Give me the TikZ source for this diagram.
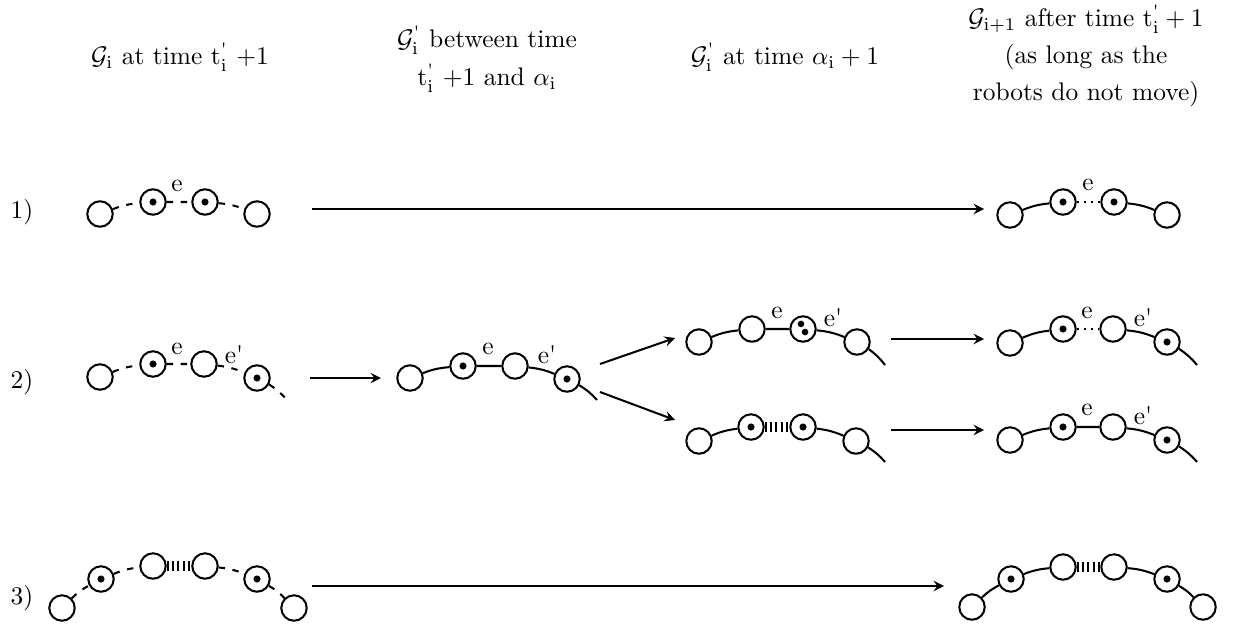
\documentclass[tikz,border=0pt]{standalone}
\usepackage{amsmath}
\newcommand{\qs}{\text{\textquotesingle}}
\newcommand{\tpi}{\mathrm{t}^{\qs}_{\mathrm{i}}}
\begin{document}
\begin{tikzpicture}[x=0.393pt, y=-0.393pt,
  vtx/.style={circle, draw, thick, minimum size=10pt, inner sep=0pt},
  rob/.style={vtx, path picture={\fill (path picture bounding box.center) circle (1.4pt);}},
  robb/.style={vtx, path picture={\fill ([shift={(-0.8pt,2pt)}]path picture bounding box.center) circle (1.3pt);
      \fill ([shift={(0.8pt,-1.2pt)}]path picture bounding box.center) circle (1.3pt);}},
  ed/.style={thick, bend left=8},
  dsh/.style={ed, dash pattern=on 2.5pt off 3pt},
  dts/.style={thick, dotted},
  bars/.style={line width=3.7pt, dash pattern=on 0.8pt off 1.3pt},
  arr/.style={thick, ->, >=stealth}]
  \useasboundingbox (0,0) rectangle (1238,625);
  \node (h1) at (180,57) {$\mathcal{G}_{\mathrm{i}}$ at time $\tpi$ +1};
  \node[align=center] (h2) at (487,59) {$\mathcal{G}^{\qs}_{\mathrm{i}}$ between time\\[3pt] $\tpi$ +1 and $\alpha_{\mathrm{i}}$};
  \node (h3) at (785,57) {$\mathcal{G}^{\qs}_{\mathrm{i}}$ at time $\alpha_{\mathrm{i}}+1$};
  \node[align=center] (h4) at (1086,56) {$\mathcal{G}_{\mathrm{i+1}}$ after time $\tpi+1$\\[2.5pt] (as long as the\\[2.5pt] robots do not move)};
  \node (l1) at (22,212) {1)};
  \node (l2) at (22,382) {2)};
  \node (l3) at (22,598) {3)};

  \node[vtx] (a1) at (100,214) {};
  \node[rob] (b1) at (153,202) {};
  \node[rob] (c1) at (205,202) {};
  \node[vtx] (d1) at (257,214) {};
  \node (e1) at (177,186) {e};
  \draw[dsh] (a1) to (b1) (b1) -- (c1) (c1) to (d1);
  \node[vtx] (a1r) at (1010,215) {};
  \node[rob] (b1r) at (1063,202) {};
  \node[rob] (c1r) at (1114,202) {};
  \node[vtx] (d1r) at (1167,215) {};
  \node (e1r) at (1088,185) {e};
  \draw[ed] (a1r) to (b1r) (c1r) to (d1r);
  \draw[dts] (b1r) -- (c1r);

  \node[vtx] (a2) at (100,377) {};
  \node[rob] (b2) at (153,364) {};
  \node[vtx] (c2) at (204,364) {};
  \node[rob] (d2) at (257,378) {};
  \coordinate (x2) at (287,400);
  \node (e2) at (177,349) {e};
  \node (f2) at (234,355) {e\textquotesingle};
  \draw[dsh] (a2) to (b2) (b2) -- (c2) (c2) to (d2) (d2) to (x2);
  \node[vtx] (a2m) at (410,378) {};
  \node[rob] (b2m) at (463,366) {};
  \node[vtx] (c2m) at (515,366) {};
  \node[rob] (d2m) at (567,379) {};
  \coordinate (x2m) at (597,400);
  \node (e2m) at (488,349) {e};
  \node (f2m) at (547,355) {e\textquotesingle};
  \draw[ed] (a2m) to (b2m) (b2m) -- (c2m) (c2m) to (d2m) (d2m) to (x2m);
  \node[vtx] (a2u) at (699,342) {};
  \node[vtx] (b2u) at (752,329) {};
  \node[robb] (c2u) at (803,329) {};
  \node[vtx] (d2u) at (857,342) {};
  \coordinate (x2u) at (885,365);
  \node (e2u) at (777,313) {e};
  \node (f2u) at (833,318) {e\textquotesingle};
  \draw[ed] (a2u) to (b2u) (b2u) -- (c2u) (c2u) to (d2u) (d2u) to (x2u);
  \node[vtx] (a2l) at (699,441) {};
  \node[rob] (b2l) at (751,427) {};
  \node[rob] (c2l) at (803,427) {};
  \node[vtx] (d2l) at (856,441) {};
  \coordinate (x2l) at (885,462);
  \draw[ed] (a2l) to (b2l) (c2l) to (d2l) (d2l) to (x2l);
  \draw[bars] (b2l) -- (c2l);
  \node[vtx] (a2ru) at (1010,343) {};
  \node[rob] (b2ru) at (1063,329) {};
  \node[vtx] (c2ru) at (1113,329) {};
  \node[rob] (d2ru) at (1167,342) {};
  \coordinate (x2ru) at (1197,365);
  \node (e2ru) at (1087,313) {e};
  \node (f2ru) at (1143,318) {e\textquotesingle};
  \draw[ed] (a2ru) to (b2ru) (c2ru) to (d2ru) (d2ru) to (x2ru);
  \draw[dts] (b2ru) -- (c2ru);
  \node[vtx] (a2rl) at (1010,440) {};
  \node[rob] (b2rl) at (1063,427) {};
  \node[vtx] (c2rl) at (1113,427) {};
  \node[rob] (d2rl) at (1167,440) {};
  \coordinate (x2rl) at (1197,462);
  \node (e2rl) at (1087,410) {e};
  \node (f2rl) at (1143,416) {e\textquotesingle};
  \draw[ed] (a2rl) to (b2rl) (b2rl) -- (c2rl) (c2rl) to (d2rl) (d2rl) to (x2rl);

  \node[vtx] (a3) at (62,608) {};
  \node[rob] (b3) at (101,579) {};
  \node[vtx] (c3) at (153,566) {};
  \node[vtx] (d3) at (205,566) {};
  \node[rob] (e3) at (257,579) {};
  \node[vtx] (f3) at (294,608) {};
  \draw[dsh] (a3) to (b3) (b3) to (c3) (d3) to (e3) (e3) to (f3);
  \draw[bars] (c3) -- (d3);
  \node[vtx] (a3r) at (972,607) {};
  \node[rob] (b3r) at (1011,579) {};
  \node[vtx] (c3r) at (1063,567) {};
  \node[vtx] (d3r) at (1114,567) {};
  \node[rob] (e3r) at (1167,579) {};
  \node[vtx] (f3r) at (1203,607) {};
  \draw[ed] (a3r) to (b3r) (b3r) to (c3r) (d3r) to (e3r) (e3r) to (f3r);
  \draw[bars] (c3r) -- (d3r);

  \coordinate (s1) at (312,209);
  \coordinate (t1) at (984,209);
  \coordinate (s2) at (310,378);
  \coordinate (t2) at (381,378);
  \coordinate (s2u) at (600,364);
  \coordinate (t2u) at (675,338);
  \coordinate (s2l) at (600,392);
  \coordinate (t2l) at (675,420);
  \coordinate (s2r) at (891,339);
  \coordinate (t2r) at (984,339);
  \coordinate (s2s) at (891,430);
  \coordinate (t2s) at (984,430);
  \coordinate (s3) at (312,586);
  \coordinate (t3) at (944,586);
  \foreach \s/\t in {s1/t1, s2/t2, s2u/t2u, s2l/t2l, s2r/t2r, s2s/t2s, s3/t3}
    \draw[arr] (\s) -- (\t);
\end{tikzpicture}
\end{document}
